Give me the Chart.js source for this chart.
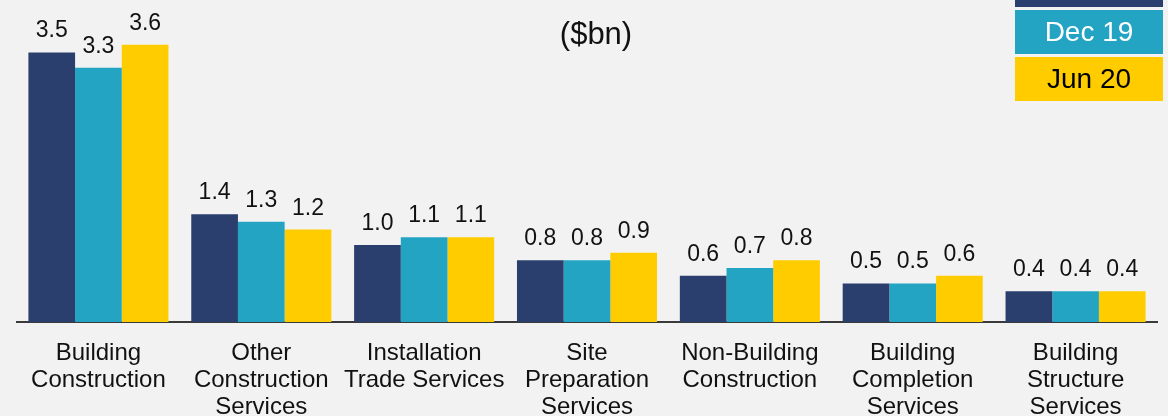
<!DOCTYPE html>
<html lang="en">
<head>
    <meta charset="UTF-8">
    <title>Construction ($bn)</title>
    <script src="https://cdn.jsdelivr.net/npm/chart.js@4.4.1/dist/chart.umd.min.js"></script>
    <style>
        html, body { margin: 0; padding: 0; background: #f2f2f2; }
        canvas { display: block; }
    </style>
</head>
<body>
    <canvas id="chart" width="1168" height="416"></canvas>

    <script>
        // Data
        const categories = [
            ['Building', 'Construction'],
            ['Other', 'Construction', 'Services'],
            ['Installation', 'Trade Services'],
            ['Site', 'Preparation', 'Services'],
            ['Non-Building', 'Construction'],
            ['Building', 'Completion', 'Services'],
            ['Building', 'Structure', 'Services']
        ];
        const seriesNames = ['Jun 19', 'Dec 19', 'Jun 20'];
        const jun19 = [3.5, 1.4, 1.0, 0.8, 0.6, 0.5, 0.4];
        const dec19 = [3.3, 1.3, 1.1, 0.8, 0.7, 0.5, 0.4];
        const jun20 = [3.6, 1.2, 1.1, 0.9, 0.8, 0.6, 0.4];

        const colors = ['#2a3f6d', '#23a4c3', '#ffcc00'];
        const legendText = ['#ffffff', '#ffffff', '#000000'];
        const FONT = '"Liberation Sans", Arial, sans-serif';

        // value labels, title and the boxed legend in the top right corner
        const extras = {
            id: 'extras',
            afterDatasetsDraw(chart) {
                const ctx = chart.ctx;
                ctx.save();
                ctx.fillStyle = '#111';
                ctx.font = '23px ' + FONT;
                ctx.textAlign = 'center';
                ctx.textBaseline = 'alphabetic';
                chart.data.datasets.forEach((ds, i) => {
                    chart.getDatasetMeta(i).data.forEach((bar, j) => {
                        ctx.fillText(ds.data[j].toFixed(1), bar.x, bar.y - 15);
                    });
                });

                ctx.font = '31px ' + FONT;
                ctx.fillText('($bn)', 596, 44);

                // legend
                const lx = 1015, lw = 148, lh = 44, gap = 3;
                const top = 7 - lh;
                ctx.font = '28px ' + FONT;
                ctx.textBaseline = 'middle';
                seriesNames.forEach((name, i) => {
                    const y = top + i * (lh + gap);
                    ctx.fillStyle = colors[i];
                    ctx.fillRect(lx, y, lw, lh);
                    ctx.fillStyle = legendText[i];
                    ctx.fillText(name, lx + lw / 2, y + lh / 2 + 1);
                });
                ctx.restore();
            }
        };

        new Chart(document.getElementById('chart'), {
            type: 'bar',
            data: {
                labels: categories,
                datasets: [
                    { label: seriesNames[0], data: jun19, backgroundColor: colors[0] },
                    { label: seriesNames[1], data: dec19, backgroundColor: colors[1] },
                    { label: seriesNames[2], data: jun20, backgroundColor: colors[2] }
                ]
            },
            options: {
                responsive: false,
                animation: false,
                layout: { padding: { left: 17, right: 11, top: 0, bottom: 0 } },
                datasets: {
                    bar: { categoryPercentage: 0.86, barPercentage: 1.0 }
                },
                plugins: {
                    legend: { display: false },
                    tooltip: { enabled: false }
                },
                scales: {
                    x: {
                        grid: { color: 'transparent', drawTicks: false },
                        border: { display: true, color: '#3a3a3a', width: 2 },
                        ticks: {
                            color: '#111',
                            font: { family: FONT, size: 24, lineHeight: 1.125 },
                            padding: 18,
                            maxRotation: 0,
                            autoSkip: false
                        },
                        afterFit(scale) { scale.height = 94; }
                    },
                    y: {
                        display: false,
                        min: 0,
                        max: 4.18
                    }
                }
            },
            plugins: [extras]
        });
    </script>
</body>
</html>
